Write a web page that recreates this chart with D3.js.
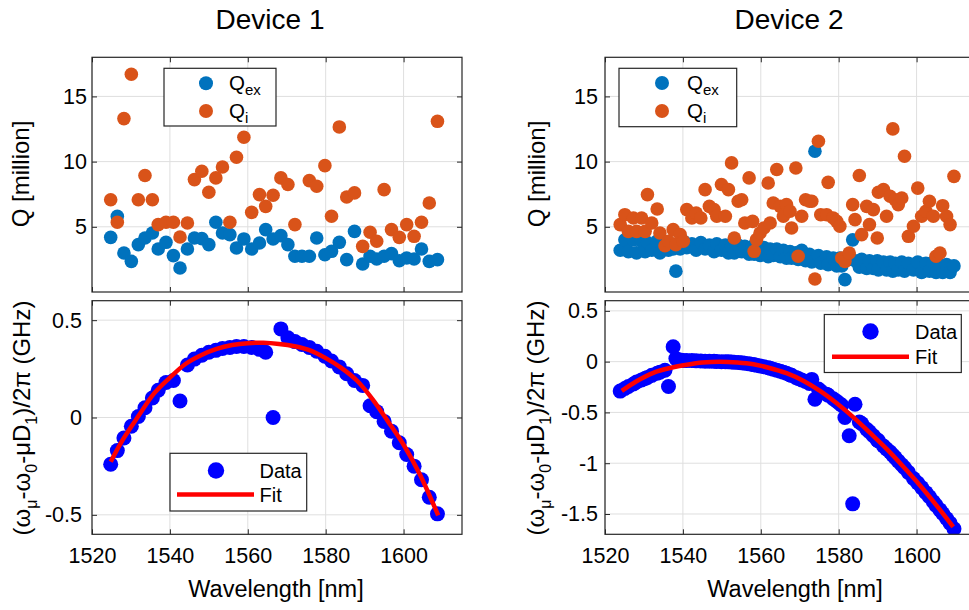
<!DOCTYPE html>
<html>
<head>
<meta charset="utf-8">
<script src="https://cdn.jsdelivr.net/npm/d3@7"></script>
<style>
  body { margin: 0; background: #fff; }
  svg { display: block; font-family: "Liberation Sans", Arial, sans-serif; }
</style>
</head>
<body>
<svg id="chart" width="969" height="610"></svg>
<script>
// ---------- Device 1 ----------
const wl1 = [1524.8,1526.5,1528.2,1530.1,1531.9,1533.6,1535.5,1537.0,1539.0,1540.9,1542.6,1544.5,1546.3,1548.2,1550.0,1551.8,1553.5,1555.4,1557.1,1559.0,1561.0,1563.0,1564.6,1566.5,1568.5,1570.3,1572.1,1573.9,1575.8,1577.7,1579.8,1581.5,1583.5,1585.4,1587.4,1589.5,1591.4,1593.1,1595.0,1596.9,1598.9,1600.8,1602.7,1604.6,1606.6,1608.7];
const qex1 = [4.19,5.81,2.99,2.35,3.63,4.14,4.53,3.30,3.81,2.79,1.84,3.30,4.14,4.09,3.63,5.35,4.53,4.40,3.38,4.07,3.30,3.76,4.78,4.07,4.32,3.63,2.74,2.74,2.74,4.14,2.86,3.12,3.81,2.48,4.65,2.15,2.74,2.53,2.74,2.94,2.40,2.61,2.53,3.30,2.35,2.48];
const qi1 = [7.08,5.35,13.3,16.7,7.08,8.93,7.08,5.17,5.35,5.35,4.22,5.29,8.62,9.26,7.65,8.75,9.59,5.35,10.33,11.87,6.11,7.47,6.57,7.42,8.75,8.24,5.17,null,8.54,8.11,9.69,5.81,12.66,7.29,7.60,3.50,4.58,3.89,7.85,4.78,4.19,5.17,4.27,5.35,6.83,13.09];
const disp1 = [-0.24,-0.17,-0.105,-0.045,0.005,0.05,0.10,0.14,0.18,0.19,0.085,0.27,0.30,0.32,0.335,0.345,0.355,0.36,0.365,0.365,0.36,0.35,0.335,0.0,0.455,0.41,0.39,0.375,0.36,0.34,0.315,0.29,0.26,0.225,0.19,0.165,0.06,0.03,-0.02,-0.07,-0.13,-0.19,-0.25,-0.32,-0.41,-0.495];
const fitWl1 = [1524.8,1528,1532,1536,1540,1544,1548,1552,1556,1560,1564,1568,1572,1576,1580,1584,1588,1592,1596,1600,1604,1608.9];
const fit1 = [-0.227,-0.111,0.01,0.125,0.205,0.275,0.32,0.352,0.372,0.382,0.384,0.378,0.366,0.345,0.305,0.255,0.19,0.095,-0.02,-0.14,-0.285,-0.503];

// ---------- Device 2 ----------
const wl2 = [1523.9,1525.1,1526.0,1527.3,1528.1,1529.4,1530.3,1530.9,1532.0,1533.4,1534.1,1535.4,1536.3,1537.5,1538.2,1539.3,1540.1,1541.0,1542.3,1543.4,1544.6,1545.7,1546.8,1548.0,1548.7,1549.9,1550.9,1551.7,1552.5,1553.2,1554.2,1555.1,1555.9,1557.0,1557.9,1558.3,1558.9,1559.8,1560.8,1561.9,1562.4,1563.2,1564.1,1565.0,1565.8,1566.6,1567.5,1567.9,1569.0,1569.6,1570.5,1571.5,1572.5,1573.1,1573.9,1574.8,1575.4,1576.9,1577.3,1578.6,1579.5,1580.3,1580.8,1581.6,1582.7,1583.6,1584.2,1585.3,1585.9,1587.2,1587.9,1588.9,1589.9,1590.2,1591.5,1592.3,1593.2,1593.9,1594.5,1595.3,1596.2,1596.9,1597.9,1599.2,1600.3,1601.3,1602.4,1603.3,1604.3,1605.0,1606.0,1606.7,1607.7,1608.6,1609.6];
const qex2 = [3.2,4.0,3.1,4.0,3.0,3.9,3.1,3.8,3.2,3.9,3.0,3.7,3.2,3.3,1.6,3.3,3.9,3.4,3.7,3.2,3.8,3.3,3.6,3.1,3.7,3.2,3.6,3.0,3.5,3.0,3.6,3.1,3.5,2.9,3.5,2.9,3.4,2.8,3.4,2.7,3.3,2.8,3.3,2.7,3.2,2.6,3.1,2.6,3.0,2.5,3.2,2.4,2.9,2.3,10.8,2.8,2.2,2.7,2.1,2.6,2.0,2.6,2.0,0.95,2.5,4.0,2.4,1.9,2.5,1.8,2.4,1.8,2.4,1.7,2.3,1.7,2.3,1.6,2.2,1.7,2.3,1.6,2.2,1.7,2.3,1.5,2.2,1.6,2.3,1.5,2.1,1.5,2.1,1.5,2.0];
const qi2 = [5.17,5.93,4.65,5.68,4.65,5.68,4.65,7.47,5.29,6.37,4.53,3.55,3.89,4.78,3.63,4.40,3.89,6.32,5.68,6.06,5.68,7.85,6.57,6.32,5.81,8.24,5.81,7.85,9.90,4.14,6.96,7.08,5.29,8.75,5.42,3.12,4.02,4.53,4.91,8.36,5.29,6.83,9.39,6.57,5.81,6.70,6.19,4.91,9.51,2.74,5.81,7.08,6.96,6.96,1.00,11.56,5.93,5.93,8.41,5.68,5.42,5.04,2.61,2.35,2.99,6.70,5.55,8.93,4.40,6.57,5.17,6.32,4.14,7.65,7.85,5.81,7.34,12.51,7.08,6.70,7.21,10.41,4.27,5.04,7.97,5.81,6.19,6.96,5.81,2.74,2.99,6.62,5.81,5.17,8.87];
const disp2 = [-0.29,-0.265,-0.245,-0.22,-0.20,-0.18,-0.165,-0.155,-0.135,-0.115,-0.105,-0.085,-0.245,0.147,0.03,0.015,0.01,0.01,0.01,0.008,0.006,0.005,0.004,0.003,0.002,0.0,0.0,-0.002,-0.004,-0.006,-0.008,-0.012,-0.016,-0.022,-0.028,-0.03,-0.035,-0.042,-0.05,-0.06,-0.065,-0.075,-0.085,-0.095,-0.105,-0.115,-0.13,-0.135,-0.155,-0.165,-0.18,-0.195,-0.215,-0.175,-0.37,-0.27,-0.29,-0.32,-0.33,-0.365,-0.39,-0.415,-0.43,-0.55,-0.73,-1.40,-0.42,-0.595,-0.61,-0.665,-0.69,-0.73,-0.77,-0.78,-0.83,-0.86,-0.89,-0.92,-0.945,-0.98,-1.015,-1.045,-1.09,-1.15,-1.195,-1.24,-1.29,-1.33,-1.38,-1.415,-1.46,-1.495,-1.545,-1.59,-1.645];
const fitWl2 = [1524.3,1528,1532.4,1537,1541,1545,1549.5,1554,1558.1,1562,1566.6,1571,1575.2,1579.5,1583.8,1588,1592.3,1596.5,1600.9,1605,1609.4];
const fit2 = [-0.288,-0.195,-0.11,-0.06,-0.03,-0.008,0,-0.008,-0.026,-0.06,-0.114,-0.19,-0.288,-0.41,-0.549,-0.70,-0.859,-1.03,-1.219,-1.41,-1.627];

// ---------- shared axis settings ----------
const wlDomain = [1520, 1615];
const wlTicks = [1520, 1540, 1560, 1580, 1600];
const qDomain = [0, 18];
const qTicks = [5, 10, 15];
const dDomain1 = [-0.6, 0.6];
const dTicks1 = [-0.5, 0, 0.5];
const dDomain2 = [-1.7, 0.6];
const dTicks2 = [-1.5, -1, -0.5, 0, 0.5];

const COL_QEX = "#0072BD";
const COL_QI = "#D95319";
const COL_DATA = "#0000FF";
const COL_FIT = "#FF0000";
const AX = "#262626";
const GRID = "#dfdfdf";

const svg = d3.select("#chart");
let clipId = 0;

function panel(o) {
  const x = d3.scaleLinear().domain(wlDomain).range([o.left, o.right]);
  const y = d3.scaleLinear().domain(o.yDomain).range([o.bottom, o.top]);
  const g = svg.append("g");

  // grid
  g.append("g").selectAll("line").data(wlTicks).join("line")
    .attr("x1", d => x(d)).attr("x2", d => x(d))
    .attr("y1", o.top).attr("y2", o.bottom)
    .attr("stroke", GRID).attr("stroke-width", 1);
  g.append("g").selectAll("line").data(o.yTicks).join("line")
    .attr("x1", o.left).attr("x2", o.right)
    .attr("y1", d => y(d)).attr("y2", d => y(d))
    .attr("stroke", GRID).attr("stroke-width", 1);

  // plot area clip
  const id = "clip" + (clipId++);
  svg.append("clipPath").attr("id", id).append("rect")
    .attr("x", o.left).attr("y", o.top)
    .attr("width", o.right - o.left).attr("height", o.bottom - o.top);
  const plot = g.append("g").attr("clip-path", `url(#${id})`);

  // axes with inward ticks on all four sides
  const fmt = d => (d === 0 ? "0" : String(d));
  const bottomAxis = d3.axisBottom(x).tickValues(wlTicks).tickSizeInner(-5).tickSizeOuter(0).tickPadding(o.xLabels ? 13 : 0)
    .tickFormat(o.xLabels ? d3.format("d") : () => "");
  const leftAxis = d3.axisLeft(y).tickValues(o.yTicks).tickSizeInner(-5).tickSizeOuter(0).tickPadding(o.yPad).tickFormat(fmt);
  const topAxis = d3.axisTop(x).tickValues(wlTicks).tickSizeInner(-5).tickSizeOuter(0).tickFormat(() => "");
  const rightAxis = d3.axisRight(y).tickValues(o.yTicks).tickSizeInner(-5).tickSizeOuter(0).tickFormat(() => "");

  const styleAxis = sel => {
    sel.select(".domain").remove();
    sel.selectAll(".tick line").attr("stroke", AX).attr("stroke-width", 1);
    sel.selectAll(".tick text").attr("fill", "#000").attr("font-size", 21.5)
      .attr("font-family", "'Liberation Sans', Arial, sans-serif");
  };
  g.append("g").attr("transform", `translate(0,${o.bottom})`).call(bottomAxis).call(styleAxis);
  g.append("g").attr("transform", `translate(${o.left},0)`).call(leftAxis).call(styleAxis);
  g.append("g").attr("transform", `translate(0,${o.top})`).call(topAxis).call(styleAxis);
  g.append("g").attr("transform", `translate(${o.right},0)`).call(rightAxis).call(styleAxis);

  return { x, y, g, plot, o };
}

function box(p) {
  const o = p.o;
  p.g.append("rect")
    .attr("x", o.left).attr("y", o.top)
    .attr("width", o.right - o.left).attr("height", o.bottom - o.top)
    .attr("fill", "none").attr("stroke", AX).attr("stroke-width", 1.2);
}

function qPanel(p, wl, qex, qi) {
  const ex = wl.map((w, i) => ({ w, v: qex[i] })).filter(d => d.v != null);
  const ii = wl.map((w, i) => ({ w, v: qi[i] })).filter(d => d.v != null);
  p.plot.append("g").selectAll("circle").data(ex).join("circle")
    .attr("cx", d => p.x(d.w)).attr("cy", d => p.y(d.v)).attr("r", 6.8).attr("fill", COL_QEX);
  p.plot.append("g").selectAll("circle").data(ii).join("circle")
    .attr("cx", d => p.x(d.w)).attr("cy", d => p.y(d.v)).attr("r", 6.8).attr("fill", COL_QI);
  box(p);
}

function dispPanel(p, wl, disp, fwl, fit) {
  const pts = wl.map((w, i) => ({ w, v: disp[i] }));
  p.plot.append("g").selectAll("circle").data(pts).join("circle")
    .attr("cx", d => p.x(d.w)).attr("cy", d => p.y(d.v)).attr("r", 7.5).attr("fill", COL_DATA);
  const line = d3.line().x(d => p.x(d.w)).y(d => p.y(d.v)).curve(d3.curveCatmullRom);
  p.plot.append("path").datum(fwl.map((w, i) => ({ w, v: fit[i] })))
    .attr("d", line).attr("fill", "none").attr("stroke", COL_FIT).attr("stroke-width", 4.5)
    .attr("stroke-linecap", "butt");
  box(p);
}

function legendQ(bx, by, bw, bh, mx, tx, y1, y2) {
  const g = svg.append("g");
  g.append("rect").attr("x", bx).attr("y", by).attr("width", bw).attr("height", bh)
    .attr("fill", "#fff").attr("stroke", AX).attr("stroke-width", 1.2);
  const items = [{ c: COL_QEX, sub: "ex", y: y1 }, { c: COL_QI, sub: "i", y: y2 }];
  items.forEach(it => {
    g.append("circle").attr("cx", mx).attr("cy", it.y).attr("r", 7).attr("fill", it.c);
    const t = g.append("text").attr("x", tx).attr("y", it.y + 7).attr("font-size", 20.5).attr("fill", "#000");
    t.append("tspan").text("Q");
    t.append("tspan").attr("dy", 5).attr("font-size", 15).text(it.sub);
  });
}

function legendFit(bx, by, bw, bh, mx, my, lx1, lx2, ly, tx) {
  const g = svg.append("g");
  g.append("rect").attr("x", bx).attr("y", by).attr("width", bw).attr("height", bh)
    .attr("fill", "#fff").attr("stroke", AX).attr("stroke-width", 1.2);
  g.append("circle").attr("cx", mx).attr("cy", my).attr("r", 8.2).attr("fill", COL_DATA);
  g.append("text").attr("x", tx).attr("y", my + 7).attr("font-size", 20).attr("fill", "#000").text("Data");
  g.append("line").attr("x1", lx1).attr("x2", lx2).attr("y1", ly).attr("y2", ly)
    .attr("stroke", COL_FIT).attr("stroke-width", 4.5);
  g.append("text").attr("x", tx).attr("y", ly + 7).attr("font-size", 20).attr("fill", "#000").text("Fit");
}

function yLabelQ(xb, yc) {
  svg.append("text").attr("transform", `translate(${xb},${yc}) rotate(-90)`)
    .attr("text-anchor", "middle").attr("font-size", 24).attr("fill", "#000").text("Q [million]");
}

function yLabelDisp(xb, yc) {
  const t = svg.append("text").attr("transform", `translate(${xb},${yc}) rotate(-90)`)
    .attr("text-anchor", "middle").attr("font-size", 24).attr("fill", "#000");
  const parts = [["(ω", 0], ["μ", 1], ["-ω", 0], ["0", 1], ["-μD", 0], ["1", 1], [")/2π (GHz)", 0]];
  let shifted = false;
  parts.forEach(([s, sub]) => {
    const ts = t.append("tspan").text(s);
    if (sub) { ts.attr("dy", 7).attr("font-size", 16); shifted = true; }
    else if (shifted) { ts.attr("dy", -7); shifted = false; }
  });
}

// ---------- layout ----------
const L = { left: 92, right: 462 };
const R = { left: 605, right: 975 };
const TOP = { top: 57.3, bottom: 292 };
const BOT = { top: 300.7, bottom: 534.3 };

const p1 = panel({ ...L, ...TOP, yDomain: qDomain, yTicks: qTicks, xLabels: false, yPad: 5 });
qPanel(p1, wl1, qex1, qi1);
const p2 = panel({ ...R, ...TOP, yDomain: qDomain, yTicks: qTicks, xLabels: false, yPad: 7 });
qPanel(p2, wl2, qex2, qi2);
const p3 = panel({ ...L, ...BOT, yDomain: dDomain1, yTicks: dTicks1, xLabels: true, yPad: 10 });
dispPanel(p3, wl1, disp1, fitWl1, fit1);
const p4 = panel({ ...R, ...BOT, yDomain: dDomain2, yTicks: dTicks2, xLabels: true, yPad: 7 });
dispPanel(p4, wl2, disp2, fitWl2, fit2);

legendQ(164, 68.3, 112, 57.7, 206, 229, 83.3, 111);
legendQ(619, 68.3, 117.7, 58.4, 662, 687, 83, 111);
legendFit(170, 453.3, 136.7, 57.7, 216, 470.5, 177, 254, 494.5, 259.5);
legendFit(824.3, 314.5, 137, 58, 870.5, 331.5, 832, 909, 356.7, 915);

// titles
svg.append("text").attr("x", 270).attr("y", 29).attr("text-anchor", "middle")
  .attr("font-size", 28).attr("fill", "#000").text("Device 1");
svg.append("text").attr("x", 789).attr("y", 29).attr("text-anchor", "middle")
  .attr("font-size", 28).attr("fill", "#000").text("Device 2");

// axis titles
svg.append("text").attr("x", 276).attr("y", 596.5).attr("text-anchor", "middle")
  .attr("font-size", 23.5).attr("fill", "#000").text("Wavelength [nm]");
svg.append("text").attr("x", 795).attr("y", 596.5).attr("text-anchor", "middle")
  .attr("font-size", 23.5).attr("fill", "#000").text("Wavelength [nm]");

yLabelQ(29, 174);
yLabelQ(545, 174);
yLabelDisp(30, 418);
yLabelDisp(544, 418);
</script>
</body>
</html>
